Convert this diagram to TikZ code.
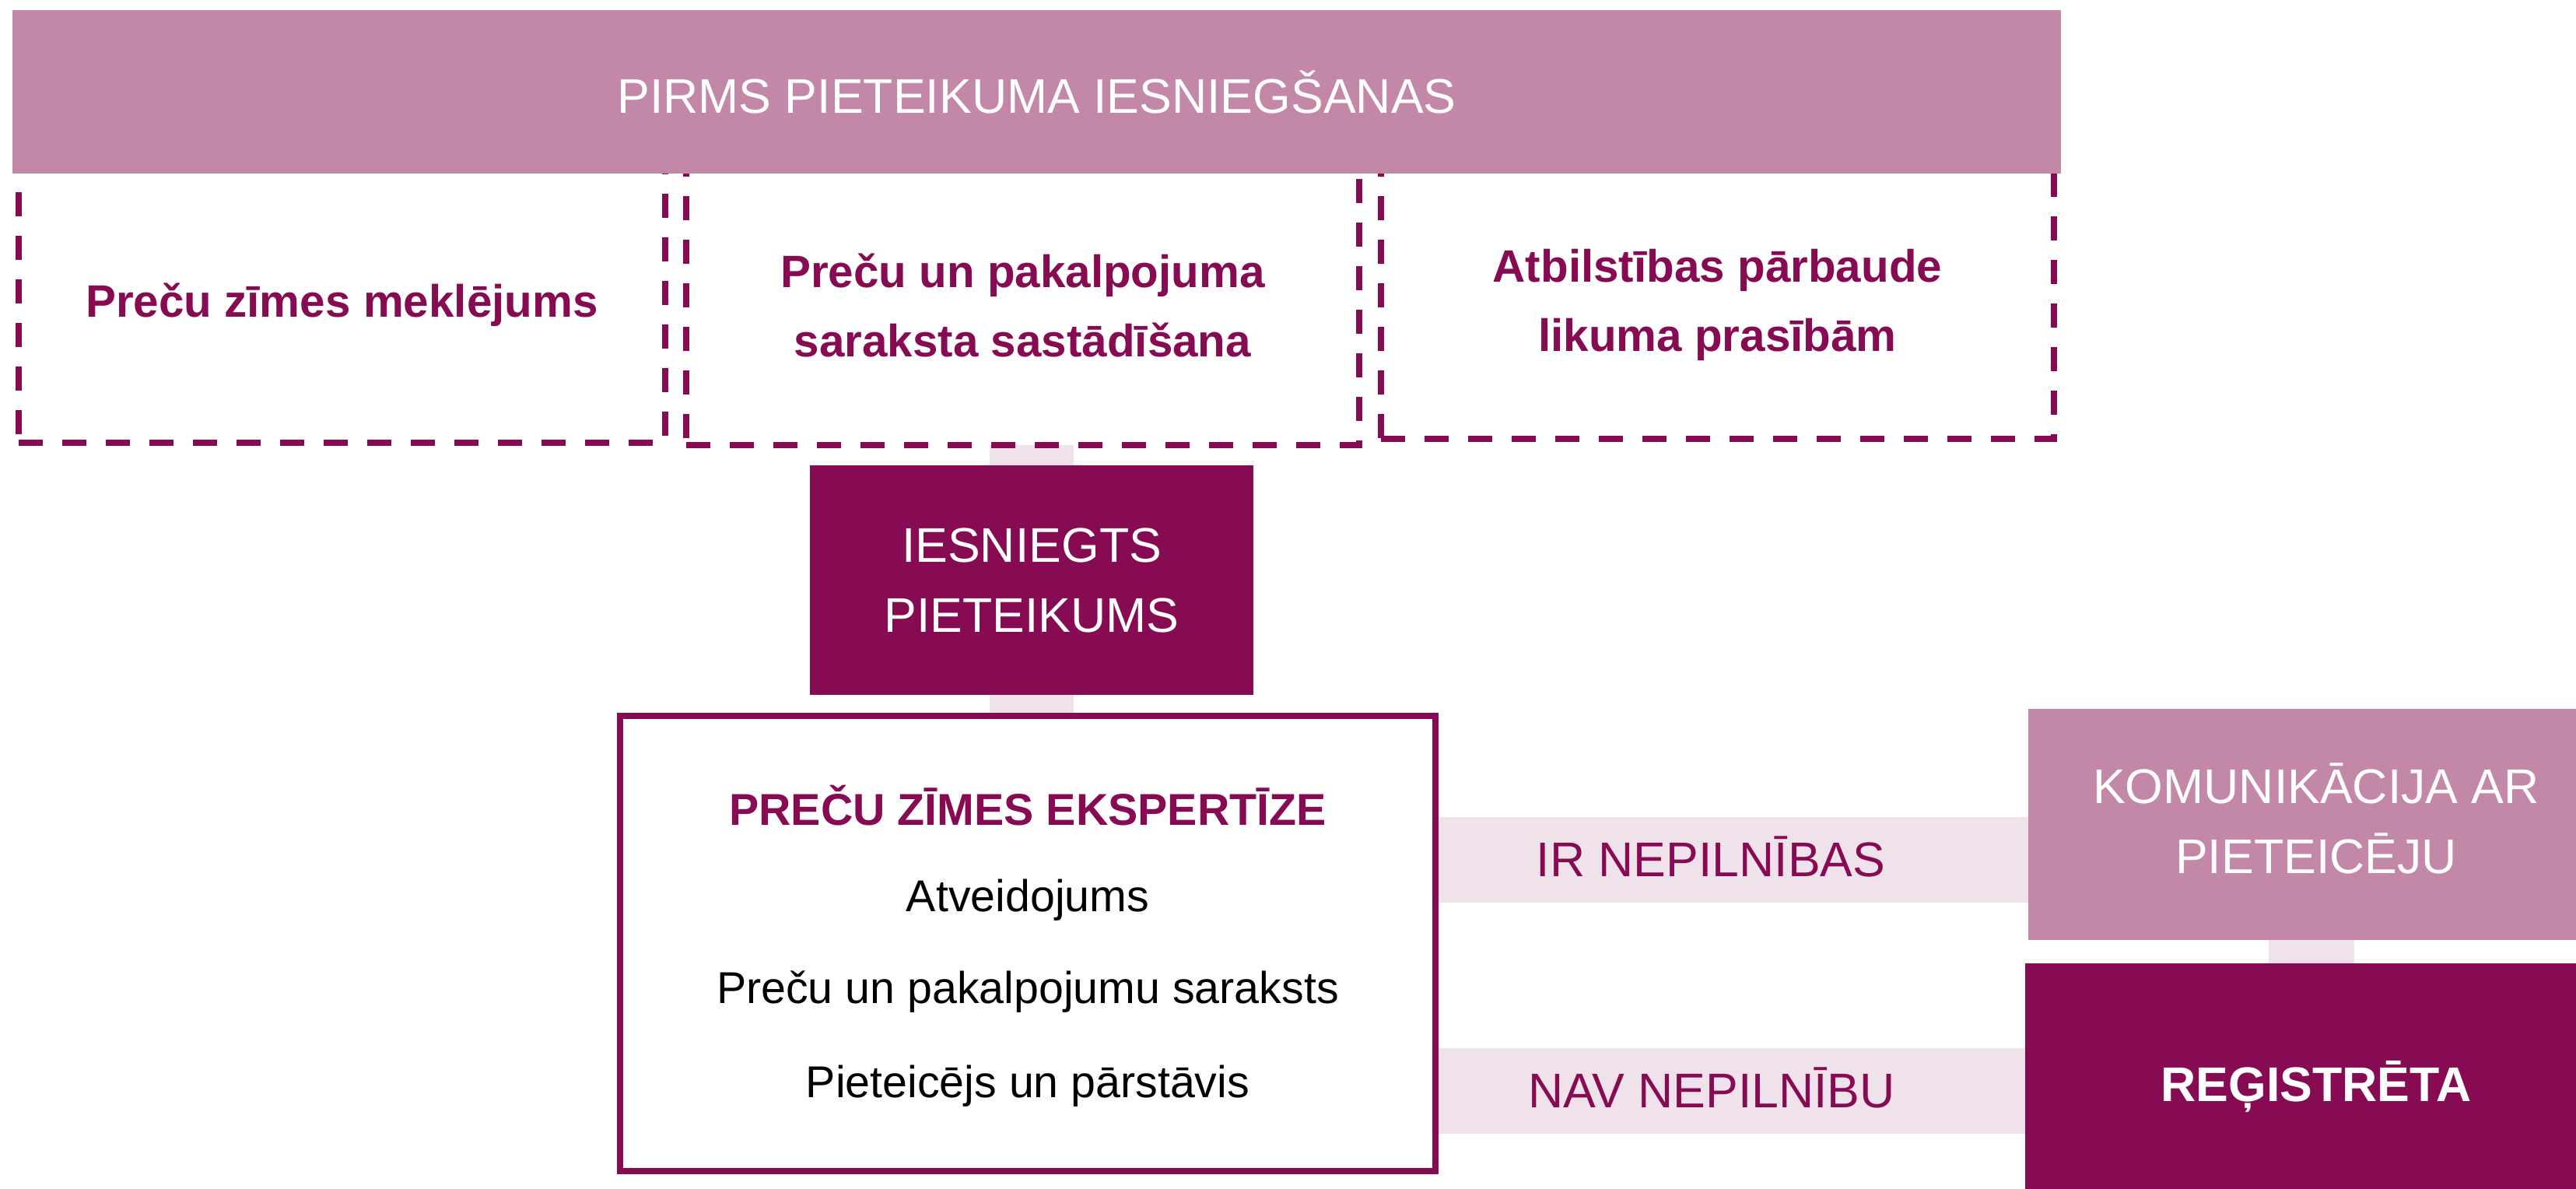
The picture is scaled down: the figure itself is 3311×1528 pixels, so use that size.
\documentclass[tikz,border=0pt]{standalone}
\usepackage{fontspec}
\setmainfont{Liberation Sans}
\usetikzlibrary{backgrounds}
\definecolor{dk}{RGB}{135,11,83}
\definecolor{md}{RGB}{195,136,168}
\definecolor{lt}{RGB}{240,226,234}
\begin{document}
\begin{tikzpicture}[x=0.01cm,y=-0.01cm,
  every node/.style={inner sep=0pt,outer sep=0pt,align=center},
  capfont/.style={font=\fontsize{17.8}{25.6}\selectfont},
  boldfont/.style={font=\fontsize{16.6}{25.3}\selectfont\bfseries},
  plainfont/.style={font=\fontsize{16.3}{20}\selectfont},
  dashbox/.style={draw=dk,line width=0.08cm,dash pattern=on 0.31cm off 0.25cm,minimum width=8.65cm},
  link/.style={draw=lt,line width=1.07cm},
  band/.style={draw=lt,line width=1.10cm}]
\useasboundingbox (0,0) rectangle (3311,1528);

% dashed boxes (tops hidden under the bar)
\node[dashbox,minimum width=8.31cm,minimum height=3.66cm] (b1) at (439.5,386) {};
\node[dashbox,minimum height=3.59cm] (b2) at (1314.5,392.5) {};
\node[dashbox,minimum height=3.55cm] (b3) at (2207.5,386.5) {};
\node[boldfont,text=dk] (t1) at (439.5,392) {Preču zīmes meklējums};
\node[boldfont,text=dk] (t2) at (1314.5,392.5) {Preču un pakalpojuma\\saraksta sastādīšana};
\node[boldfont,text=dk] (t3) at (2207.5,391.5) {Atbilstības pārbaude\\likuma prasībām};

% top bar
\node[fill=md,minimum width=26.31cm,minimum height=2.10cm,text=white,capfont] (bar) at (1332.5,118) {PIRMS PIETEIKUMA IESNIEGŠANAS};

% submitted application
\node[fill=dk,minimum width=5.70cm,minimum height=2.95cm,text=white,capfont] (iesn) at (1326,745.5) {IESNIEGTS\\PIETEIKUMS};

% examination box
\node[draw=dk,line width=0.08cm,fill=white,minimum width=10.48cm,minimum height=5.85cm] (exp) at (1321,1212.5) {};
\node[font=\fontsize{16.3}{20}\selectfont\bfseries,text=dk] (et) at (1321,1035) {PREČU ZĪMES EKSPERTĪZE};
\node[plainfont] (e1) at (1321,1157) {Atveidojums};
\node[plainfont] (e2) at (1321,1275) {Preču un pakalpojumu saraksts};
\node[plainfont] (e3) at (1321,1396) {Pieteicējs un pārstāvis};

% right boxes
\node[fill=md,minimum width=7.40cm,minimum height=2.97cm] (kom) at (2977,1059.5) {};
\node[text=white,capfont] (komt) at (2977,1051.5) {KOMUNIKĀCIJA AR\\PIETEICĒJU};
\node[fill=dk,minimum width=7.48cm,minimum height=3.08cm] (reg) at (2977,1392) {};
\node[text=white,font=\fontsize{17.8}{25.6}\selectfont\bfseries] (regt) at (2977,1396) {REĢISTRĒTA};

% branch labels
\node[capfont,text=dk] (ir) at (2199,1101) {IR NEPILNĪBAS};
\node[capfont,text=dk] (nav) at (2200,1398) {NAV NEPILNĪBU};

\begin{scope}[on background layer]
\fill[white] (0,0) rectangle (3311,1528);
\draw[link] (b2.south -| iesn.north) -- (iesn.north);
\draw[link] (iesn.south) -- (iesn.south |- exp.north);
\draw[band] (exp.east |- 0,1105) -- (kom.west |- 0,1105);
\draw[band] (exp.east |- 0,1402) -- (reg.west |- 0,1402);
\draw[band] ([xshift=-0.06cm]kom.south) -- ([xshift=-0.06cm]kom.south |- reg.north);
\end{scope}
\end{tikzpicture}
\end{document}
